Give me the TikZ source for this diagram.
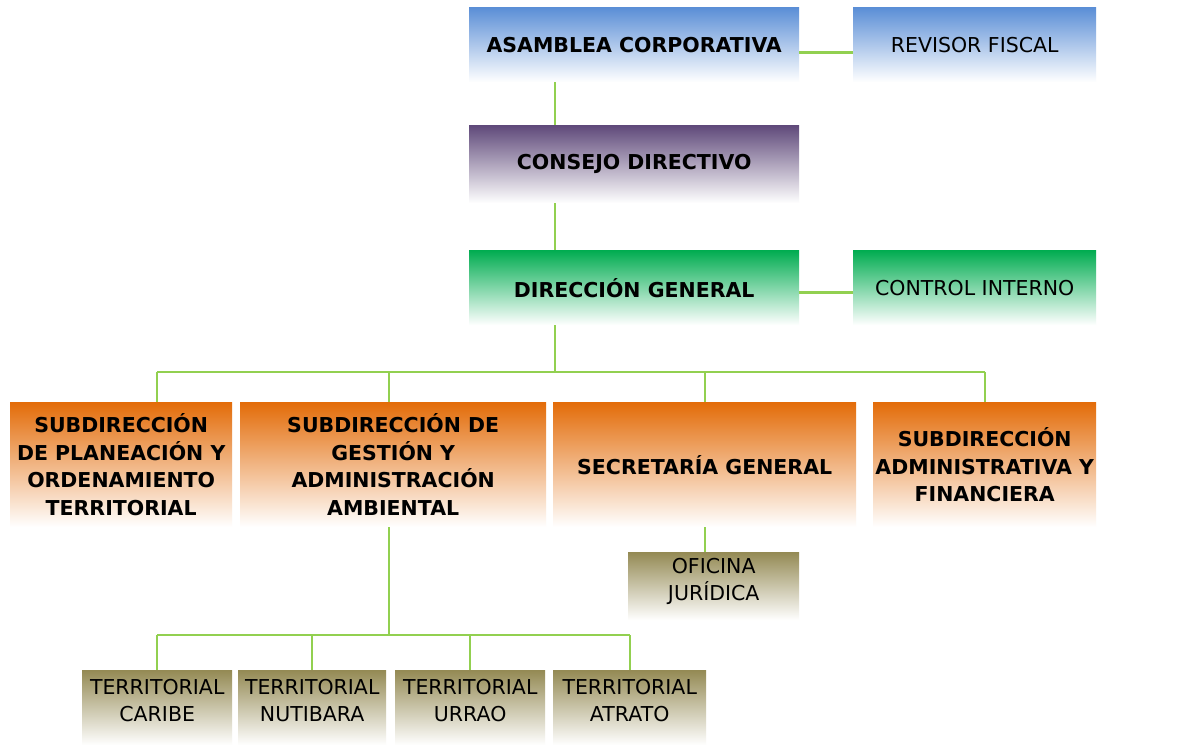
\documentclass[tikz,border=0pt]{standalone}
\usepackage{fontspec}
\setmainfont{DejaVu Sans}
\begin{document}
\begin{tikzpicture}[x=1pt,y=-1pt,
  box/.style={anchor=north west, inner sep=0pt, align=center, bottom color=white, draw=none},
  bld/.style={font=\fontsize{20.5}{27.5}\selectfont\bfseries},
  reg/.style={font=\fontsize{20.5}{27}\selectfont},
  conn/.style={draw=lgreen, line width=2.5pt}]
\definecolor{cblue}{HTML}{5A8ED6}
\definecolor{cpurp}{HTML}{5F497A}
\definecolor{cgreen}{HTML}{00AC50}
\definecolor{corange}{HTML}{E36C09}
\definecolor{colive}{HTML}{948A54}
\definecolor{lgreen}{HTML}{92D050}
\fill[white] (0,0) rectangle (1188,746);
\useasboundingbox (0,0) rectangle (1188,746);
% top level
\node[box,bld,top color=cblue,minimum width=330pt,minimum height=75pt] (asam) at (469,7) {ASAMBLEA CORPORATIVA};
\node[box,reg,top color=cblue,minimum width=243pt,minimum height=75pt] (rev) at (853,7) {REVISOR FISCAL};
\node[box,bld,top color=cpurp,minimum width=330pt,minimum height=78pt] (cons) at (469,125) {CONSEJO DIRECTIVO};
\node[box,bld,top color=cgreen,minimum width=330pt,minimum height=75pt] (dir) at (469,250) {DIRECCIÓN GENERAL};
\node[box,reg,top color=cgreen,minimum width=243pt,minimum height=75pt] (ctrl) at (853,250) {CONTROL INTERNO};
% subdirections
\node[box,bld,top color=corange,minimum width=222pt,minimum height=125pt] (s1) at (10,402) {SUBDIRECCIÓN\\DE PLANEACIÓN Y\\ORDENAMIENTO\\TERRITORIAL};
\node[box,bld,top color=corange,minimum width=306pt,minimum height=125pt] (s2) at (240,402) {SUBDIRECCIÓN DE\\GESTIÓN Y\\ADMINISTRACIÓN\\AMBIENTAL};
\node[box,bld,top color=corange,minimum width=303pt,minimum height=125pt] (s3) at (553,402) {SECRETARÍA GENERAL};
\node[box,bld,top color=corange,minimum width=223pt,minimum height=125pt] (s4) at (873,402) {SUBDIRECCIÓN\\ADMINISTRATIVA Y\\FINANCIERA};
% lower level
\node[box,reg,top color=colive,minimum width=171pt,minimum height=68pt,text depth=13pt] (ofi) at (628,552) {OFICINA\\JURÍDICA};
\node[box,reg,top color=colive,minimum width=150pt,minimum height=75pt,text depth=15pt] (t1) at (82,670) {TERRITORIAL\\CARIBE};
\node[box,reg,top color=colive,minimum width=148pt,minimum height=75pt,text depth=15pt] (t2) at (238,670) {TERRITORIAL\\NUTIBARA};
\node[box,reg,top color=colive,minimum width=150pt,minimum height=75pt,text depth=15pt] (t3) at (395,670) {TERRITORIAL\\URRAO};
\node[box,reg,top color=colive,minimum width=153pt,minimum height=75pt,text depth=15pt] (t4) at (553,670) {TERRITORIAL\\ATRATO};
% coordinates
\coordinate (spine) at (555,372);
\coordinate (d1) at (157,372);
\coordinate (d2) at (389,372);
\coordinate (d3) at (705,372);
\coordinate (d4) at (985,372);
\coordinate (tb) at (389,635);
\coordinate (e1) at (157,635);
\coordinate (e4) at (630,635);
% connectors
\draw[conn] ([yshift=-8pt]asam.east) -- ([yshift=-8pt]rev.west);
\draw[conn] ([yshift=-5pt]dir.east) -- ([yshift=-5pt]ctrl.west);
\draw[conn] (asam.south -| spine) -- (cons.north -| spine);
\draw[conn] (cons.south -| spine) -- (dir.north -| spine);
\draw[conn] (dir.south -| spine) -- (spine);
\draw[conn] (d1) -- (d4);
\draw[conn] (d1) -- (s1.north -| d1);
\draw[conn] (d2) -- (s2.north -| d2);
\draw[conn] (d3) -- (s3.north -| d3);
\draw[conn] (d4) -- (s4.north -| d4);
\draw[conn] (s2.south -| tb) -- (tb);
\draw[conn] (e1) -- (e4);
\draw[conn] (e1) -- (t1.north -| e1);
\draw[conn] (t2.north |- tb) -- (t2.north);
\draw[conn] (t3.north |- tb) -- (t3.north);
\draw[conn] (e4) -- (t4.north -| e4);
\draw[conn] (s3.south -| d3) -- (ofi.north -| d3);
\end{tikzpicture}
\end{document}
